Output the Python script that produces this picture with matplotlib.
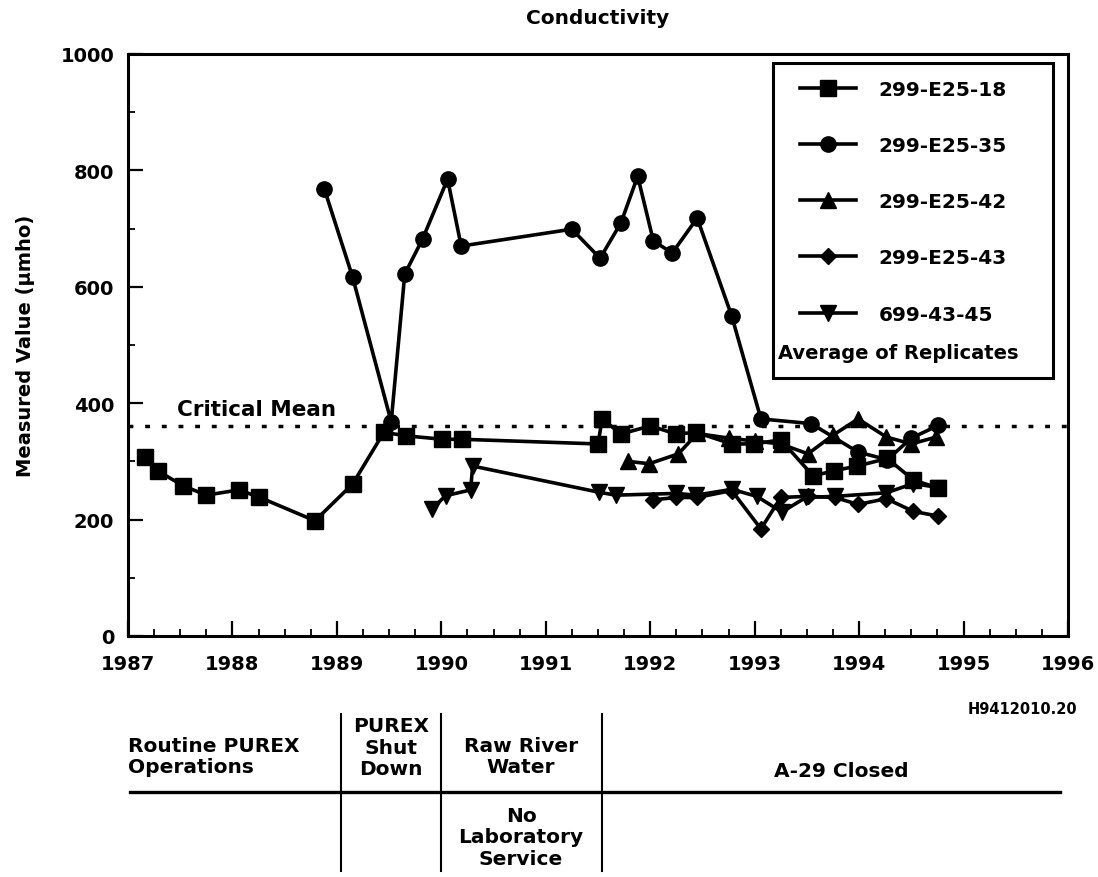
import matplotlib
matplotlib.use("Agg")
import matplotlib.pyplot as plt
from matplotlib.lines import Line2D
from matplotlib.patches import Rectangle
from matplotlib.ticker import MultipleLocator

plt.rcParams["font.family"] = ["DejaVu Sans"]
plt.rcParams["font.weight"] = "bold"

# 299-E25-18 (squares)
sq_x = [1987.16, 1987.29, 1987.53, 1987.75, 1988.06, 1988.25, 1988.79, 1989.15, 1989.45,
        1989.66, 1990.01, 1990.20, 1991.50, 1991.54, 1991.72, 1992.00, 1992.25, 1992.44,
        1992.78, 1992.99, 1993.25, 1993.56, 1993.76, 1993.98, 1994.27, 1994.52, 1994.76]
sq_y = [307, 283, 258, 242, 251, 239, 198, 261, 350,
        344, 338, 338, 330, 373, 347, 361, 347, 350,
        330, 330, 337, 275, 284, 292, 305, 268, 254]

# 299-E25-35 (circles)
ci_x = [1988.88, 1989.15, 1989.52, 1989.65, 1989.82, 1990.06, 1990.19, 1991.25, 1991.52,
        1991.72, 1991.88, 1992.03, 1992.21, 1992.45, 1992.78, 1993.06, 1993.54, 1993.99,
        1994.27, 1994.50, 1994.76]
ci_y = [768, 617, 368, 622, 682, 785, 670, 699, 649,
        710, 790, 679, 658, 718, 550, 373, 365, 316,
        303, 340, 362]

# 299-E25-42 (triangles)
tr_x = [1991.79, 1991.99, 1992.27, 1992.45, 1992.75, 1993.00, 1993.25, 1993.51, 1993.75,
        1993.99, 1994.26, 1994.50, 1994.74]
tr_y = [300, 296, 313, 348, 340, 335, 330, 313, 345,
        373, 342, 330, 342]

# 299-E25-43 (diamonds)
di_x = [1992.03, 1992.25, 1992.45, 1992.78, 1993.06, 1993.25, 1993.51, 1993.77, 1993.99,
        1994.26, 1994.52, 1994.76]
di_y = [234, 238, 238, 250, 184, 238, 240, 238, 226,
        236, 214, 206]

# 699-43-45 (inverted triangles)
iv_x = [1989.91, 1990.04, 1990.28, 1990.30, 1991.51, 1991.67, 1992.25, 1992.44, 1992.78,
        1993.02, 1993.26, 1993.49, 1993.77, 1994.26, 1994.52, 1994.76]
iv_y = [218, 241, 251, 292, 247, 242, 245, 242, 252,
        240, 213, 238, 240, 246, 262, 255]

critical_mean = 360

series = [
    ("299-E25-18", sq_x, sq_y, "s", 12),
    ("299-E25-35", ci_x, ci_y, "o", 11),
    ("299-E25-42", tr_x, tr_y, "^", 11),
    ("299-E25-43", di_x, di_y, "D", 8.5),
    ("699-43-45", iv_x, iv_y, "v", 11),
]

W, H = 1098, 878
fig = plt.figure(figsize=(W / 100, H / 100), dpi=100)
ax = fig.add_axes([128 / W, 1 - 637 / H, 940 / W, 582 / H])

for label, x, y, m, ms in series:
    ax.plot(x, y, color="black", lw=2.6, marker=m, markersize=ms, label=label)

ax.axhline(critical_mean, color="black", lw=2.5, linestyle=(0, (1.4, 3.4)))
ax.text(1987.47, critical_mean + 12, "Critical Mean", fontsize=15.5, fontweight="bold", va="bottom")

ax.set_xlim(1987, 1996)
ax.set_ylim(0, 1000)
ax.xaxis.set_major_locator(MultipleLocator(1))
ax.xaxis.set_minor_locator(MultipleLocator(0.25))
ax.yaxis.set_major_locator(MultipleLocator(200))
ax.yaxis.set_minor_locator(MultipleLocator(100))
ax.tick_params(which="major", direction="in", length=11, width=1.6, labelsize=14)
ax.tick_params(which="minor", direction="in", length=5, width=1.3)
ax.tick_params(axis="x", which="major", pad=13)
ax.tick_params(axis="y", which="major", pad=10)
for lab in ax.get_xticklabels() + ax.get_yticklabels():
    lab.set_fontweight("bold")
for s in ax.spines.values():
    s.set_linewidth(2.2)

ax.set_ylabel("Measured Value (\u03bcmho)", fontsize=14, fontweight="bold", labelpad=18)
ax.set_title("Conductivity", fontsize=14.5, fontweight="bold", pad=22)

# legend box
ax.add_patch(Rectangle((0.686, 0.443), 0.298, 0.5415, transform=ax.transAxes,
                       fill=False, edgecolor="black", lw=2.2, zorder=5))
leg = ax.legend(loc="upper left", bbox_to_anchor=(0.715, 0.956), frameon=False,
                fontsize=14.5, handlelength=2.8, handletextpad=1.1, labelspacing=1.85,
                borderpad=0, borderaxespad=0)
for t in leg.get_texts():
    t.set_fontweight("bold")
ax.text(0.692, 0.487, "Average of Replicates", transform=ax.transAxes, fontsize=14,
        fontweight="bold", va="center")

# footnote id
fig.text(1077 / W, 1 - 709 / H, "H9412010.20", fontsize=10.5, fontweight="bold",
         ha="right", va="center")

# operations period table under the chart
fig.add_artist(Line2D([130 / W, 1060 / W], [1 - 793 / H, 1 - 793 / H], color="black", lw=2.4))
for xp in [341, 441, 602]:
    fig.add_artist(Line2D([xp / W, xp / W], [1 - 715 / H, 1 - 872 / H], color="black", lw=1.5))

tkw = dict(fontsize=14.5, fontweight="bold", linespacing=1.15)
fig.text(128 / W, 1 - 757 / H, "Routine PUREX\nOperations", ha="left", va="center", **tkw)
fig.text(391 / W, 1 - 748 / H, "PUREX\nShut\nDown", ha="center", va="center", **tkw)
fig.text(521 / W, 1 - 757 / H, "Raw River\nWater", ha="center", va="center", **tkw)
fig.text(841 / W, 1 - 772 / H, "A-29 Closed", ha="center", va="center", **tkw)
fig.text(521 / W, 1 - 838 / H, "No\nLaboratory\nService", ha="center", va="center", **tkw)

fig.savefig("out.png", dpi=100)
